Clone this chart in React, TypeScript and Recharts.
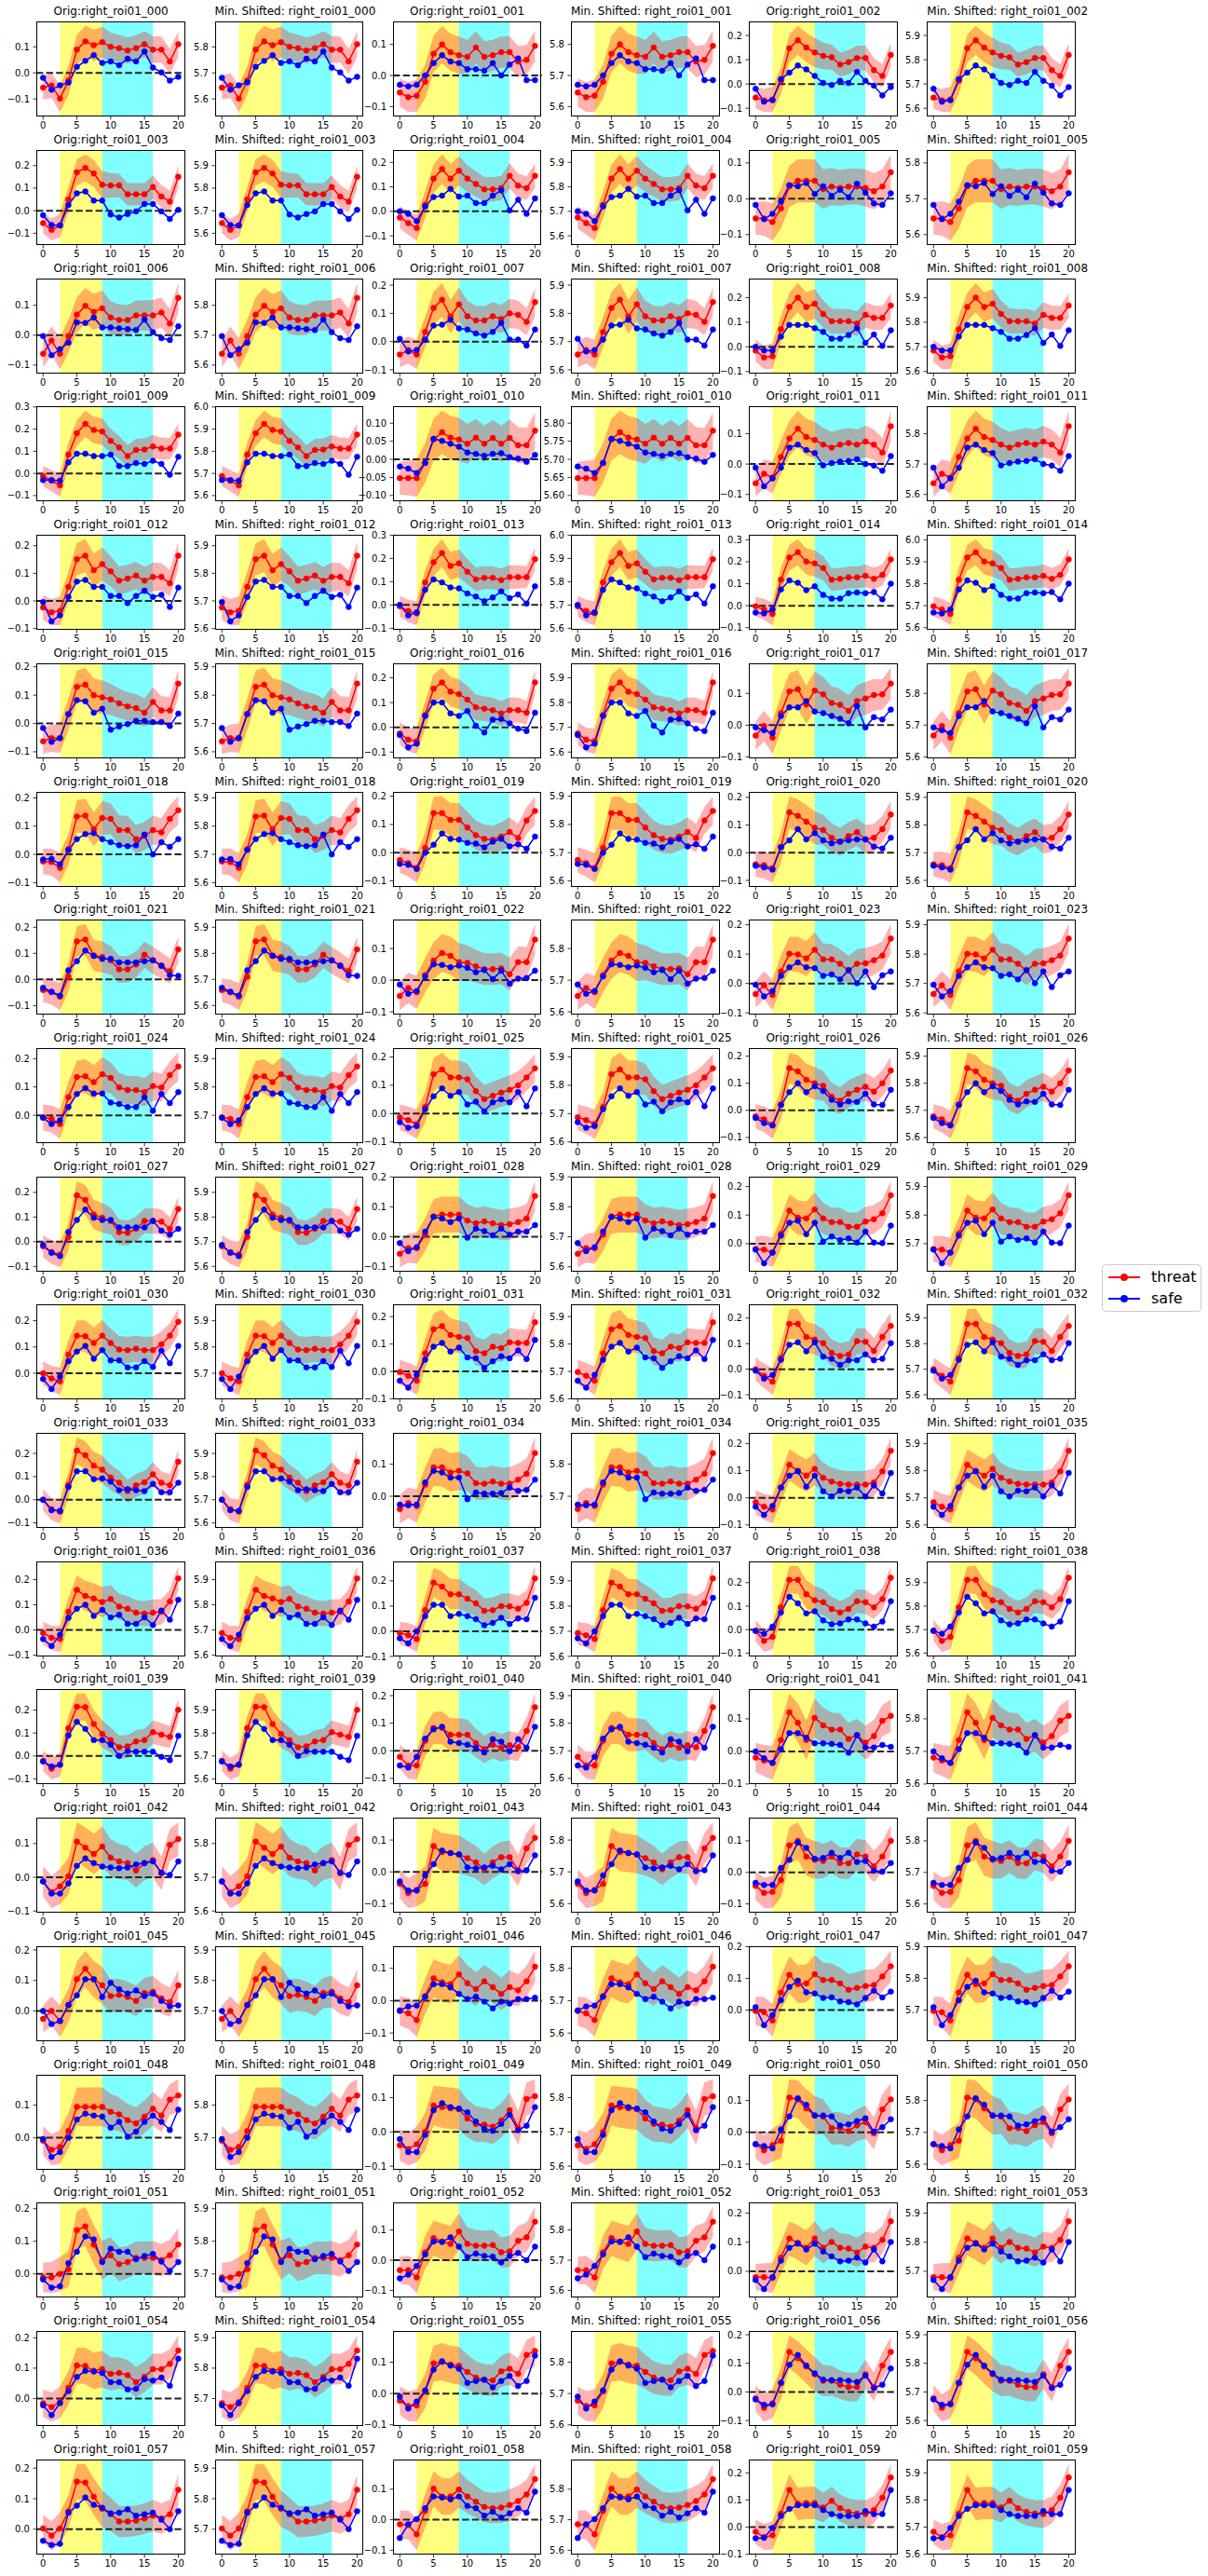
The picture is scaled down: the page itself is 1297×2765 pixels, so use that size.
import React from 'react';
import { ComposedChart, Line, Area, XAxis, YAxis, ReferenceArea, ReferenceLine } from 'recharts';

const FONT = '"DejaVu Sans", sans-serif';

// 17 samples per trace, every 1.25 s
const TIME = [0, 1.25, 2.5, 3.75, 5, 6.25, 7.5, 8.75, 10, 11.25, 12.5, 13.75, 15, 16.25, 17.5, 18.75, 20];
const X_TICKS = [0, 5, 10, 15, 20];

// half width of the threat band
const SEM = [0.045, 0.048, 0.052, 0.055, 0.058, 0.06, 0.06, 0.06, 0.055, 0.052, 0.05, 0.05, 0.05, 0.052, 0.05, 0.048, 0.05];

const SHIFT = 5.7;
const FINE_TICK_ROIS = [10];

const THREAT = [
  [-0.057, -0.049, -0.099, -0.03, 0.089, 0.121, 0.106, 0.118, 0.1, 0.095, 0.086, 0.095, 0.11, 0.089, 0.089, 0.044, 0.11],
  [-0.055, -0.07, -0.065, -0.02, 0.07, 0.1, 0.075, 0.065, 0.06, 0.09, 0.06, 0.065, 0.075, 0.075, 0.045, 0.05, 0.095],
  [-0.056, -0.068, -0.064, 0.013, 0.147, 0.18, 0.15, 0.13, 0.116, 0.11, 0.08, 0.09, 0.107, 0.107, 0.057, 0.033, 0.12],
  [-0.055, -0.085, -0.065, 0.05, 0.17, 0.19, 0.165, 0.115, 0.112, 0.112, 0.073, 0.073, 0.073, 0.105, 0.063, 0.04, 0.15],
  [-0.025, -0.048, -0.068, 0.027, 0.134, 0.173, 0.134, 0.166, 0.134, 0.112, 0.09, 0.09, 0.095, 0.145, 0.105, 0.095, 0.145],
  [-0.055, -0.055, -0.065, -0.027, 0.035, 0.05, 0.05, 0.05, 0.027, 0.034, 0.03, 0.034, 0.034, 0.03, 0.021, 0.034, 0.074],
  [-0.062, -0.018, -0.062, -0.003, 0.069, 0.098, 0.078, 0.09, 0.059, 0.051, 0.051, 0.066, 0.066, 0.066, 0.076, 0.039, 0.125],
  [-0.046, -0.03, -0.046, 0.034, 0.119, 0.148, 0.089, 0.132, 0.09, 0.075, 0.075, 0.09, 0.08, 0.1, 0.095, 0.07, 0.14],
  [-0.015, -0.043, -0.038, 0.071, 0.162, 0.2, 0.162, 0.175, 0.134, 0.104, 0.104, 0.104, 0.095, 0.13, 0.118, 0.118, 0.168],
  [-0.012, -0.033, -0.054, 0.085, 0.182, 0.224, 0.196, 0.189, 0.147, 0.117, 0.078, 0.106, 0.108, 0.122, 0.112, 0.112, 0.175],
  [-0.052, -0.052, -0.052, -0.01, 0.055, 0.075, 0.06, 0.055, 0.043, 0.06, 0.043, 0.059, 0.043, 0.059, 0.039, 0.039, 0.079],
  [-0.063, -0.032, -0.044, 0.023, 0.084, 0.116, 0.089, 0.079, 0.064, 0.054, 0.064, 0.069, 0.064, 0.074, 0.064, 0.038, 0.124],
  [-0.024, -0.041, -0.036, 0.051, 0.151, 0.164, 0.111, 0.133, 0.107, 0.073, 0.081, 0.092, 0.073, 0.087, 0.087, 0.064, 0.164],
  [-0.006, -0.026, -0.036, 0.097, 0.184, 0.223, 0.168, 0.179, 0.143, 0.11, 0.117, 0.117, 0.107, 0.12, 0.12, 0.12, 0.197],
  [-0.003, -0.017, -0.038, 0.118, 0.219, 0.243, 0.201, 0.192, 0.171, 0.118, 0.122, 0.129, 0.129, 0.136, 0.122, 0.14, 0.21],
  [-0.063, -0.052, -0.052, 0.033, 0.129, 0.137, 0.1, 0.092, 0.085, 0.071, 0.06, 0.054, 0.038, 0.076, 0.046, 0.046, 0.141],
  [-0.025, -0.05, -0.056, 0.05, 0.156, 0.181, 0.144, 0.134, 0.112, 0.081, 0.075, 0.069, 0.056, 0.069, 0.069, 0.059, 0.181],
  [-0.033, -0.003, -0.039, 0.038, 0.106, 0.113, 0.065, 0.109, 0.097, 0.07, 0.064, 0.045, 0.076, 0.084, 0.095, 0.097, 0.131],
  [-0.025, -0.027, -0.048, 0.018, 0.134, 0.137, 0.089, 0.129, 0.126, 0.086, 0.086, 0.054, 0.065, 0.086, 0.078, 0.126, 0.156],
  [-0.026, -0.037, -0.054, 0.017, 0.14, 0.14, 0.116, 0.116, 0.089, 0.062, 0.049, 0.046, 0.057, 0.073, 0.052, 0.114, 0.148],
  [-0.042, -0.045, -0.056, 0.02, 0.146, 0.133, 0.112, 0.09, 0.082, 0.054, 0.04, 0.06, 0.074, 0.048, 0.054, 0.085, 0.138],
  [-0.041, -0.049, -0.066, 0.01, 0.146, 0.153, 0.092, 0.086, 0.073, 0.039, 0.039, 0.057, 0.095, 0.073, 0.054, 0.032, 0.115],
  [-0.05, -0.025, -0.038, 0.016, 0.062, 0.086, 0.077, 0.057, 0.055, 0.044, 0.035, 0.035, 0.037, 0.019, 0.057, 0.057, 0.128],
  [-0.036, -0.006, -0.039, 0.041, 0.101, 0.099, 0.085, 0.115, 0.082, 0.082, 0.067, 0.044, 0.067, 0.069, 0.079, 0.095, 0.153],
  [-0.007, -0.013, -0.031, 0.064, 0.135, 0.138, 0.117, 0.145, 0.132, 0.098, 0.089, 0.089, 0.082, 0.103, 0.098, 0.142, 0.172],
  [-0.013, -0.023, -0.037, 0.023, 0.139, 0.156, 0.128, 0.128, 0.121, 0.079, 0.051, 0.063, 0.074, 0.084, 0.1, 0.128, 0.16],
  [-0.022, -0.033, -0.053, 0.022, 0.156, 0.144, 0.113, 0.1, 0.091, 0.05, 0.036, 0.061, 0.076, 0.087, 0.069, 0.1, 0.147],
  [-0.019, -0.042, -0.052, 0.019, 0.188, 0.169, 0.11, 0.097, 0.084, 0.039, 0.036, 0.052, 0.084, 0.084, 0.081, 0.052, 0.132],
  [-0.057, -0.038, -0.038, 0.007, 0.068, 0.074, 0.074, 0.074, 0.054, 0.045, 0.051, 0.045, 0.039, 0.042, 0.049, 0.061, 0.136],
  [-0.019, -0.021, -0.031, 0.035, 0.115, 0.091, 0.088, 0.119, 0.088, 0.075, 0.075, 0.059, 0.059, 0.077, 0.085, 0.106, 0.169],
  [0.0, -0.02, -0.031, 0.071, 0.143, 0.141, 0.115, 0.143, 0.115, 0.09, 0.088, 0.093, 0.088, 0.088, 0.11, 0.143, 0.196],
  [-0.002, -0.016, -0.034, 0.066, 0.154, 0.165, 0.133, 0.126, 0.122, 0.074, 0.066, 0.09, 0.085, 0.106, 0.104, 0.104, 0.179],
  [0.0, -0.026, -0.049, 0.044, 0.177, 0.177, 0.126, 0.116, 0.102, 0.064, 0.052, 0.058, 0.11, 0.107, 0.072, 0.126, 0.169],
  [0.0, -0.041, -0.051, 0.064, 0.212, 0.192, 0.147, 0.13, 0.096, 0.073, 0.037, 0.062, 0.075, 0.11, 0.073, 0.062, 0.164],
  [-0.04, -0.021, -0.03, 0.036, 0.09, 0.09, 0.074, 0.079, 0.071, 0.041, 0.039, 0.046, 0.039, 0.039, 0.052, 0.07, 0.134],
  [-0.016, -0.033, -0.043, 0.038, 0.122, 0.1, 0.082, 0.107, 0.074, 0.06, 0.052, 0.049, 0.049, 0.049, 0.057, 0.098, 0.174],
  [-0.012, -0.031, -0.036, 0.072, 0.159, 0.135, 0.125, 0.111, 0.123, 0.093, 0.084, 0.069, 0.065, 0.069, 0.072, 0.113, 0.205],
  [-0.007, -0.016, -0.031, 0.084, 0.193, 0.177, 0.147, 0.147, 0.129, 0.111, 0.081, 0.084, 0.1, 0.099, 0.089, 0.113, 0.21],
  [-0.005, -0.048, -0.031, 0.095, 0.212, 0.212, 0.151, 0.125, 0.117, 0.088, 0.073, 0.088, 0.121, 0.117, 0.095, 0.13, 0.221],
  [-0.021, -0.056, -0.038, 0.121, 0.215, 0.213, 0.139, 0.096, 0.069, 0.038, 0.042, 0.063, 0.069, 0.104, 0.093, 0.083, 0.201],
  [-0.022, -0.053, -0.053, 0.036, 0.083, 0.083, 0.058, 0.058, 0.058, 0.028, 0.006, 0.022, 0.011, 0.02, 0.013, 0.072, 0.158],
  [-0.019, -0.028, -0.035, 0.035, 0.12, 0.088, 0.035, 0.103, 0.08, 0.067, 0.067, 0.038, 0.05, 0.027, 0.047, 0.094, 0.109],
  [-0.012, -0.044, -0.027, 0.003, 0.106, 0.088, 0.069, 0.091, 0.058, 0.047, 0.042, 0.02, 0.042, 0.051, 0.012, 0.096, 0.113],
  [-0.038, -0.067, -0.057, -0.038, 0.081, 0.062, 0.059, 0.055, 0.043, 0.03, 0.008, 0.03, 0.046, 0.046, 0.005, 0.074, 0.107],
  [-0.043, -0.065, -0.062, -0.024, 0.086, 0.1, 0.05, 0.04, 0.036, 0.05, 0.03, 0.029, 0.057, 0.05, 0.019, 0.05, 0.1],
  [-0.026, 0.0, -0.033, 0.018, 0.104, 0.138, 0.104, 0.084, 0.049, 0.053, 0.046, 0.033, 0.059, 0.063, 0.041, 0.029, 0.084],
  [-0.032, -0.039, -0.06, 0.014, 0.069, 0.057, 0.051, 0.081, 0.054, 0.036, 0.06, 0.042, 0.021, 0.042, 0.032, 0.06, 0.105],
  [-0.003, -0.007, -0.033, 0.055, 0.111, 0.082, 0.084, 0.113, 0.095, 0.095, 0.084, 0.064, 0.07, 0.076, 0.079, 0.106, 0.138],
  [-0.009, -0.037, -0.028, 0.021, 0.095, 0.095, 0.095, 0.095, 0.08, 0.072, 0.054, 0.044, 0.065, 0.089, 0.068, 0.117, 0.13],
  [-0.039, -0.05, -0.036, 0.0, 0.077, 0.072, 0.069, 0.066, 0.039, 0.023, 0.021, 0.015, 0.033, 0.063, 0.012, 0.096, 0.104],
  [-0.037, -0.056, -0.04, -0.026, 0.109, 0.103, 0.075, 0.053, 0.049, 0.013, 0.013, 0.004, 0.022, 0.032, -0.003, 0.072, 0.103],
  [-0.011, -0.011, 0.0, 0.014, 0.134, 0.146, 0.09, 0.042, 0.057, 0.03, 0.036, 0.049, 0.049, 0.049, 0.042, 0.057, 0.09],
  [-0.033, -0.033, -0.057, 0.026, 0.073, 0.062, 0.054, 0.095, 0.054, 0.048, 0.048, 0.05, 0.026, 0.029, 0.064, 0.076, 0.127],
  [-0.02, -0.02, -0.023, 0.047, 0.113, 0.098, 0.081, 0.113, 0.081, 0.101, 0.081, 0.078, 0.065, 0.085, 0.081, 0.108, 0.172],
  [-0.015, -0.028, -0.012, 0.035, 0.109, 0.107, 0.091, 0.097, 0.081, 0.084, 0.077, 0.054, 0.071, 0.097, 0.097, 0.114, 0.158],
  [-0.023, -0.04, -0.038, 0.007, 0.096, 0.101, 0.093, 0.089, 0.069, 0.051, 0.044, 0.042, 0.071, 0.079, 0.063, 0.123, 0.136],
  [-0.022, -0.056, -0.04, 0.03, 0.14, 0.118, 0.089, 0.062, 0.039, 0.039, 0.025, 0.017, 0.017, 0.062, 0.017, 0.092, 0.14],
  [0.002, -0.021, 0.002, 0.059, 0.156, 0.153, 0.106, 0.067, 0.049, 0.025, 0.025, 0.028, 0.035, 0.044, 0.035, 0.049, 0.129],
  [-0.015, -0.017, -0.048, 0.029, 0.102, 0.076, 0.076, 0.099, 0.076, 0.059, 0.042, 0.038, 0.04, 0.048, 0.061, 0.083, 0.133],
  [-0.017, -0.037, -0.03, 0.05, 0.137, 0.086, 0.089, 0.089, 0.072, 0.097, 0.07, 0.056, 0.05, 0.048, 0.063, 0.108, 0.183],
];

const SAFE = [
  [-0.019, -0.065, -0.048, -0.037, 0.023, 0.046, 0.068, 0.038, 0.044, 0.029, 0.054, 0.044, 0.082, 0.02, 0.002, -0.03, -0.015],
  [-0.03, -0.035, -0.03, 0.0, 0.04, 0.065, 0.045, 0.04, 0.02, 0.02, 0.015, 0.04, 0.0, 0.035, 0.055, -0.015, -0.015],
  [-0.02, -0.073, -0.067, 0.02, 0.047, 0.076, 0.06, 0.033, 0.004, -0.004, 0.013, 0.004, 0.05, 0.013, -0.007, -0.047, -0.013],
  [-0.02, -0.063, -0.065, 0.025, 0.077, 0.085, 0.045, 0.045, -0.017, -0.03, -0.015, -0.003, 0.03, 0.03, -0.003, -0.037, 0.004],
  [0.0, -0.01, -0.04, 0.02, 0.058, 0.064, 0.092, 0.06, 0.064, 0.034, 0.034, 0.064, 0.086, 0.004, 0.047, -0.01, 0.053],
  [-0.017, -0.057, -0.042, -0.008, 0.038, 0.035, 0.044, 0.013, 0.035, 0.008, 0.025, 0.004, 0.042, 0.017, -0.013, -0.017, 0.015],
  [-0.003, -0.067, -0.047, -0.025, 0.043, 0.041, 0.059, 0.026, 0.026, 0.023, 0.02, 0.017, 0.052, 0.01, -0.01, -0.016, 0.03],
  [0.01, -0.035, -0.03, 0.007, 0.057, 0.06, 0.077, 0.047, 0.043, 0.029, 0.021, 0.034, 0.066, 0.007, 0.007, -0.014, 0.043],
  [0.0, -0.015, -0.015, 0.042, 0.089, 0.089, 0.089, 0.076, 0.061, 0.033, 0.033, 0.048, 0.076, 0.016, 0.05, 0.004, 0.067],
  [-0.03, -0.03, -0.033, 0.05, 0.089, 0.089, 0.078, 0.078, 0.085, 0.033, 0.033, 0.047, 0.043, 0.057, 0.043, -0.006, 0.075],
  [-0.02, -0.026, -0.038, -0.01, 0.057, 0.051, 0.043, 0.035, 0.019, 0.015, 0.01, 0.015, 0.017, 0.006, 0.002, -0.007, 0.012],
  [-0.012, -0.073, -0.047, -0.012, 0.054, 0.064, 0.046, 0.036, -0.004, 0.003, 0.008, 0.01, 0.016, 0.0, -0.005, -0.022, 0.026],
  [-0.004, -0.074, -0.052, 0.014, 0.07, 0.076, 0.051, 0.051, 0.018, 0.018, -0.008, 0.018, 0.037, 0.014, 0.022, -0.022, 0.048],
  [0.0, -0.045, -0.032, 0.065, 0.11, 0.097, 0.075, 0.071, 0.049, 0.036, 0.016, 0.032, 0.058, 0.029, 0.045, 0.006, 0.08],
  [-0.031, -0.035, -0.017, 0.074, 0.115, 0.104, 0.071, 0.088, 0.049, 0.032, 0.032, 0.057, 0.06, 0.057, 0.062, 0.029, 0.1],
  [-0.016, -0.065, -0.052, 0.033, 0.082, 0.078, 0.038, 0.052, -0.022, -0.011, -0.002, 0.009, 0.009, 0.005, 0.005, -0.009, 0.035],
  [-0.031, -0.081, -0.066, 0.046, 0.1, 0.1, 0.056, 0.046, 0.066, 0.006, -0.021, 0.031, 0.034, 0.016, -0.006, -0.015, 0.059],
  [-0.007, -0.016, -0.025, 0.029, 0.056, 0.056, 0.076, 0.043, 0.038, 0.029, 0.02, 0.006, 0.06, -0.007, 0.025, 0.018, 0.049],
  [-0.018, -0.016, -0.035, 0.016, 0.054, 0.072, 0.075, 0.054, 0.043, 0.032, 0.029, 0.032, 0.07, 0.0, 0.043, 0.027, 0.054],
  [-0.04, -0.043, -0.058, 0.0, 0.028, 0.068, 0.049, 0.046, 0.035, 0.032, 0.019, 0.039, 0.049, 0.022, 0.03, 0.014, 0.057],
  [-0.047, -0.053, -0.061, 0.02, 0.045, 0.085, 0.048, 0.071, 0.045, 0.034, 0.04, 0.045, 0.048, 0.048, 0.022, 0.015, 0.054],
  [-0.032, -0.047, -0.062, 0.035, 0.07, 0.111, 0.09, 0.079, 0.079, 0.065, 0.065, 0.065, 0.07, 0.073, 0.052, 0.016, 0.014],
  [-0.014, -0.043, -0.034, 0.012, 0.05, 0.048, 0.041, 0.046, 0.039, 0.025, 0.032, 0.003, 0.03, -0.011, 0.005, 0.007, 0.03],
  [-0.004, -0.044, -0.026, 0.026, 0.055, 0.072, 0.055, 0.052, 0.026, 0.031, 0.014, 0.046, 0.001, 0.041, -0.012, 0.028, 0.041],
  [-0.009, -0.031, -0.018, 0.029, 0.075, 0.096, 0.077, 0.077, 0.045, 0.04, 0.029, 0.029, 0.064, 0.016, 0.075, 0.043, 0.082],
  [-0.03, -0.05, -0.044, 0.016, 0.061, 0.089, 0.063, 0.076, 0.032, 0.042, 0.008, 0.04, 0.05, 0.04, 0.076, 0.026, 0.089],
  [-0.028, -0.047, -0.056, 0.02, 0.067, 0.1, 0.067, 0.089, 0.072, 0.039, 0.022, 0.033, 0.031, 0.061, 0.022, 0.02, 0.076],
  [-0.013, -0.045, -0.058, 0.039, 0.088, 0.13, 0.097, 0.088, 0.088, 0.058, 0.058, 0.058, 0.058, 0.084, 0.045, 0.029, 0.052],
  [-0.021, -0.048, -0.035, 0.017, 0.066, 0.061, 0.049, 0.061, -0.003, 0.027, 0.019, 0.005, 0.027, 0.007, 0.017, 0.017, 0.039],
  [-0.021, -0.069, -0.031, 0.028, 0.073, 0.08, 0.033, 0.073, 0.007, 0.025, 0.013, 0.018, 0.004, 0.042, 0.004, 0.002, 0.063],
  [-0.022, -0.06, -0.013, 0.046, 0.082, 0.104, 0.055, 0.088, 0.049, 0.049, 0.022, 0.022, 0.046, 0.024, 0.086, 0.038, 0.104],
  [-0.034, -0.059, -0.013, 0.043, 0.09, 0.104, 0.072, 0.087, 0.051, 0.048, 0.013, 0.037, 0.055, 0.048, 0.077, 0.045, 0.115],
  [-0.006, -0.037, -0.023, 0.037, 0.095, 0.105, 0.07, 0.105, 0.049, 0.041, 0.017, 0.035, 0.035, 0.058, 0.035, 0.041, 0.102],
  [0.0, -0.045, -0.048, 0.055, 0.123, 0.123, 0.089, 0.092, 0.078, 0.041, 0.045, 0.041, 0.037, 0.068, 0.032, 0.032, 0.073],
  [-0.026, -0.028, -0.026, 0.043, 0.079, 0.074, 0.058, 0.058, -0.009, 0.012, 0.008, 0.008, 0.01, 0.027, 0.017, 0.02, 0.052],
  [-0.033, -0.063, -0.03, 0.038, 0.082, 0.098, 0.041, 0.082, 0.024, 0.005, 0.027, 0.024, 0.038, 0.005, 0.046, 0.016, 0.092],
  [-0.036, -0.064, -0.019, 0.048, 0.084, 0.1, 0.056, 0.08, 0.05, 0.06, 0.024, 0.024, 0.05, 0.02, 0.077, 0.041, 0.12],
  [-0.028, -0.048, 0.0, 0.06, 0.105, 0.105, 0.06, 0.069, 0.06, 0.048, 0.024, 0.033, 0.053, 0.029, 0.051, 0.048, 0.133],
  [-0.005, -0.018, 0.013, 0.073, 0.14, 0.112, 0.069, 0.078, 0.039, 0.023, 0.026, 0.043, 0.043, 0.026, 0.013, 0.034, 0.121],
  [-0.024, -0.046, -0.038, 0.09, 0.149, 0.118, 0.069, 0.069, 0.049, 0.0, 0.021, 0.018, 0.018, 0.018, -0.004, -0.018, 0.088],
  [-0.053, -0.061, -0.022, 0.044, 0.078, 0.087, 0.033, 0.028, 0.022, 0.011, -0.006, 0.042, 0.033, -0.002, 0.042, 0.011, 0.087],
  [0.0, -0.021, -0.035, 0.007, 0.056, 0.056, 0.042, 0.025, 0.025, 0.023, 0.02, -0.004, 0.05, 0.012, 0.012, 0.02, 0.014],
  [-0.012, -0.048, -0.048, -0.018, 0.034, 0.056, 0.042, 0.032, 0.029, 0.027, 0.029, 0.038, 0.042, 0.047, 0.014, 0.007, 0.047],
  [-0.03, -0.059, -0.059, -0.011, 0.024, 0.067, 0.059, 0.055, 0.014, 0.011, 0.014, 0.019, 0.008, 0.024, 0.002, 0.005, 0.052],
  [-0.033, -0.04, -0.04, 0.014, 0.04, 0.095, 0.078, 0.043, 0.046, 0.062, 0.046, 0.062, 0.033, 0.036, 0.005, 0.002, 0.03],
  [0.0, -0.043, -0.033, 0.02, 0.051, 0.104, 0.104, 0.046, 0.092, 0.071, 0.057, 0.067, 0.049, 0.057, 0.033, 0.015, 0.018],
  [-0.03, -0.018, -0.015, 0.012, 0.051, 0.051, 0.041, 0.021, 0.005, 0.012, -0.003, -0.024, -0.003, -0.009, 0.005, 0.005, 0.009],
  [0.009, -0.048, -0.016, 0.031, 0.073, 0.093, 0.056, 0.052, 0.038, 0.04, 0.027, 0.025, 0.018, 0.038, 0.061, 0.04, 0.058],
  [-0.004, -0.059, -0.044, 0.0, 0.056, 0.074, 0.068, 0.065, 0.031, 0.049, 0.003, 0.019, 0.049, 0.068, 0.049, 0.024, 0.086],
  [-0.021, -0.059, -0.059, -0.009, 0.063, 0.084, 0.072, 0.068, 0.057, 0.03, 0.009, 0.003, 0.023, 0.05, 0.005, 0.018, 0.072],
  [-0.037, -0.043, -0.05, 0.009, 0.05, 0.107, 0.086, 0.053, 0.053, 0.05, 0.021, 0.025, 0.035, 0.044, 0.002, 0.016, 0.041],
  [-0.017, -0.042, -0.038, 0.033, 0.068, 0.115, 0.106, 0.036, 0.077, 0.068, 0.068, 0.045, 0.055, 0.061, 0.038, 0.009, 0.036],
  [-0.06, -0.048, -0.019, 0.019, 0.062, 0.06, 0.076, 0.045, 0.01, 0.022, 0.014, 0.012, -0.007, 0.014, 0.024, 0.0, 0.045],
  [-0.03, -0.061, -0.02, 0.037, 0.081, 0.095, 0.075, 0.095, 0.068, 0.051, 0.034, 0.037, 0.047, 0.03, 0.075, 0.034, 0.101],
  [-0.022, -0.054, -0.015, 0.025, 0.071, 0.091, 0.089, 0.084, 0.054, 0.054, 0.03, 0.032, 0.064, 0.059, 0.069, 0.042, 0.131],
  [-0.01, -0.048, -0.026, 0.01, 0.076, 0.103, 0.089, 0.079, 0.034, 0.04, 0.044, 0.02, 0.04, 0.056, 0.024, 0.04, 0.121],
  [-0.026, -0.045, -0.043, 0.032, 0.095, 0.129, 0.092, 0.065, 0.043, 0.041, 0.041, 0.039, 0.035, 0.057, 0.014, 0.025, 0.082],
  [-0.038, -0.052, -0.048, 0.054, 0.077, 0.104, 0.08, 0.07, 0.052, 0.054, 0.065, 0.044, 0.049, 0.054, 0.031, 0.0, 0.059],
  [-0.06, -0.015, 0.002, 0.038, 0.076, 0.073, 0.067, 0.076, 0.045, 0.038, 0.013, 0.026, 0.007, 0.021, 0.038, 0.023, 0.092],
  [-0.041, -0.039, -0.003, 0.041, 0.067, 0.081, 0.081, 0.081, 0.063, 0.048, 0.041, 0.041, 0.041, 0.059, 0.048, 0.048, 0.137],
];

// layout (pixels)
const AX_LEFT0 = 39.3;
const COL_STEP = 191.2;
const AX_TOP0 = 23.3;
const ROW_STEP = 137.7;
const AX_W = 159.7;
const AX_H = 102;
const Y_W = 40;
const TOP_PAD = 20;
const X_H = 24;

const fmtTick = (v: number, dec: number) => {
  const s = Math.abs(v).toFixed(dec);
  return (v < -1e-9 && Number(s) !== 0 ? '\u2212' : '') + s;
};

const makeTicks = (lo: number, hi: number, step: number) => {
  const out: number[] = [];
  for (let k = Math.ceil(lo / step - 1e-9); k * step <= hi + 1e-9; k++) {
    out.push(Number((k * step).toFixed(4)));
  }
  return out;
};

const roiName = (i: number) => `right_roi01_${String(i).padStart(3, '0')}`;

interface PanelProps {
  roi: number;
  shifted: boolean;
  left: number;
  top: number;
}

const Panel: React.FC<PanelProps> = ({ roi, shifted, left, top }) => {
  const t = THREAT[roi];
  const s = SAFE[roi];
  const off = shifted ? SHIFT : 0;
  const rows = TIME.map((x, i) => ({
    x,
    threat: t[i] + off,
    safe: s[i] + off,
    band: [t[i] - SEM[i] + off, t[i] + SEM[i] + off],
  }));

  let lo = Infinity;
  let hi = -Infinity;
  rows.forEach((r) => {
    lo = Math.min(lo, r.band[0], r.safe);
    hi = Math.max(hi, r.band[1], r.safe);
  });
  if (!shifted) {
    lo = Math.min(lo, 0);
    hi = Math.max(hi, 0);
  }
  const pad = (hi - lo) * 0.05;
  lo -= pad;
  hi += pad;

  const step = FINE_TICK_ROIS.includes(roi) ? 0.05 : 0.1;
  const dec = step < 0.1 ? 2 : 1;
  const yTicks = makeTicks(lo, hi, step);
  const title = shifted ? `Min. Shifted: ${roiName(roi)}` : `Orig:${roiName(roi)}`;

  return (
    <>
      <div
        style={{
          position: 'absolute',
          left,
          top: top - 17,
          width: AX_W,
          textAlign: 'center',
          fontFamily: FONT,
          fontSize: 12,
          lineHeight: '12px',
          whiteSpace: 'nowrap',
          color: '#000',
        }}
      >
        {title}
      </div>
      <div style={{ position: 'absolute', left: left - Y_W, top: top - TOP_PAD }}>
        <ComposedChart
          width={Y_W + AX_W + 4}
          height={TOP_PAD + AX_H + X_H}
          data={rows}
          margin={{ top: TOP_PAD, right: 4, bottom: 0, left: 0 }}
        >
          <XAxis
            dataKey="x"
            type="number"
            domain={[-1, 21]}
            ticks={X_TICKS}
            interval={0}
            allowDataOverflow
            height={X_H}
            axisLine={false}
            tickSize={3.5}
            tickMargin={2}
            tickLine={{ stroke: '#000', strokeWidth: 0.8 }}
            tick={{ fontSize: 10, fill: '#000', fontFamily: FONT }}
          />
          <YAxis
            type="number"
            domain={[lo, hi]}
            ticks={yTicks}
            interval={0}
            allowDataOverflow
            width={Y_W}
            axisLine={false}
            tickSize={3.5}
            tickMargin={3.5}
            tickLine={{ stroke: '#000', strokeWidth: 0.8 }}
            tickFormatter={(v: number) => fmtTick(v, dec)}
            tick={{ fontSize: 10, fill: '#000', fontFamily: FONT }}
          />
          <ReferenceArea x1={2.5} x2={8.75} fill="#ffff00" fillOpacity={0.5} stroke="none" />
          <ReferenceArea x1={8.75} x2={16.25} fill="#00ffff" fillOpacity={0.5} stroke="none" />
          <Area
            dataKey="band"
            type="linear"
            stroke="none"
            fill="#ff0000"
            fillOpacity={0.3}
            dot={false}
            activeDot={false}
            isAnimationActive={false}
          />
          {!shifted && (
            <ReferenceLine y={0} stroke="#222" strokeWidth={2} strokeDasharray="7.4 3.2" />
          )}
          <Line
            dataKey="threat"
            type="linear"
            stroke="#ff0000"
            strokeWidth={1.5}
            dot={{ r: 3, fill: '#ff0000', stroke: '#ff0000', strokeWidth: 0.5 }}
            activeDot={false}
            isAnimationActive={false}
          />
          <Line
            dataKey="safe"
            type="linear"
            stroke="#0000ff"
            strokeWidth={1.5}
            dot={{ r: 3, fill: '#0000ff', stroke: '#0000ff', strokeWidth: 0.5 }}
            activeDot={false}
            isAnimationActive={false}
          />
        </ComposedChart>
      </div>
      <div
        style={{
          position: 'absolute',
          left,
          top,
          width: AX_W,
          height: AX_H,
          border: '1px solid #000',
          boxSizing: 'border-box',
          pointerEvents: 'none',
        }}
      />
    </>
  );
};

const LegendItem: React.FC<{ color: string; label: string }> = ({ color, label }) => (
  <div style={{ display: 'flex', alignItems: 'center', height: 22.5 }}>
    <svg width={34} height={22} style={{ marginLeft: 6, marginRight: 12 }}>
      <line x1={0} y1={11} x2={34} y2={11} stroke={color} strokeWidth={2} />
      <circle cx={17} cy={11} r={4} fill={color} />
    </svg>
    <span style={{ fontFamily: FONT, fontSize: 16, color: '#000', lineHeight: '22px' }}>{label}</span>
  </div>
);

export default function App() {
  const panels: React.ReactNode[] = [];
  for (let row = 0; row < 20; row++) {
    for (let col = 0; col < 6; col++) {
      const roi = row * 3 + Math.floor(col / 2);
      panels.push(
        <Panel
          key={`${row}-${col}`}
          roi={roi}
          shifted={col % 2 === 1}
          left={AX_LEFT0 + col * COL_STEP}
          top={AX_TOP0 + row * ROW_STEP}
        />
      );
    }
  }

  return (
    <div
      style={{
        position: 'absolute',
        left: 0,
        top: 0,
        width: 1297,
        height: 2765,
        background: '#fff',
        overflow: 'hidden',
      }}
    >
      {panels}
      <div
        style={{
          position: 'absolute',
          left: 1183,
          top: 1357,
          width: 107,
          height: 51,
          boxSizing: 'border-box',
          border: '1px solid #cccccc',
          borderRadius: 4,
          background: 'rgba(255,255,255,0.8)',
          paddingTop: 2,
        }}
      >
        <LegendItem color="#ff0000" label="threat" />
        <LegendItem color="#0000ff" label="safe" />
      </div>
    </div>
  );
}
